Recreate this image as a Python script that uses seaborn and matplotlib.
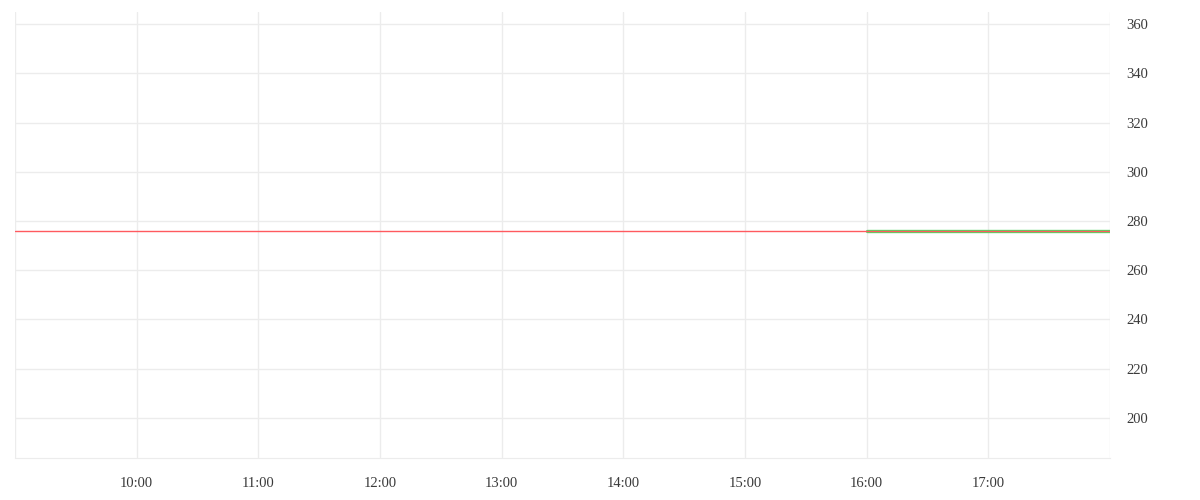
import matplotlib
matplotlib.use("Agg")
import matplotlib.pyplot as plt
import matplotlib.dates as mdates
import seaborn as sns
import pandas as pd

# Price series (flat line at the last close) and the highlighted after-hours segment
price_times = ["2024-01-02 09:00", "2024-01-02 18:00"]
price_values = [275.9, 275.9]
after_times = ["2024-01-02 16:00", "2024-01-02 18:00"]
after_values = [275.9, 275.9]

y_ticks = [200, 220, 240, 260, 280, 300, 320, 340, 360]
x_ticks = ["2024-01-02 %02d:00" % h for h in range(9, 19)]

price_df = pd.DataFrame({"time": pd.to_datetime(price_times), "price": price_values})
after_df = pd.DataFrame({"time": pd.to_datetime(after_times), "price": after_values})

sns.set_style("white")
plt.rcParams["font.family"] = ["Liberation Serif", "DejaVu Serif"]

fig = plt.figure(figsize=(12, 5), dpi=100)
ax = fig.add_axes([0.0125, 0.084, 0.9125, 0.892])

sns.lineplot(data=after_df, x="time", y="price", color="#4cd964", linewidth=2.4, ax=ax)
sns.lineplot(data=price_df, x="time", y="price", color="#ff5a5f", linewidth=1.0, ax=ax)

ax.set_xlim(pd.Timestamp(x_ticks[0]), pd.Timestamp(x_ticks[-1]))
ax.set_ylim(183.7, 364.9)
ax.set_xticks(pd.to_datetime(x_ticks))
ax.xaxis.set_major_formatter(mdates.DateFormatter("%H:%M"))
labels = [t[-5:] for t in x_ticks]
labels[0] = ""
labels[-1] = ""
ax.set_xticklabels(labels)
ax.set_yticks(y_ticks)

ax.yaxis.tick_right()
ax.grid(True, color="#ececec", linewidth=1.0)
ax.tick_params(axis="x", length=5, color="#ececec", pad=9, labelsize=10.5, labelcolor="#3a3a3a")
ax.tick_params(axis="y", length=0, pad=12, labelsize=10.5, labelcolor="#3a3a3a")
for side in ["top", "left", "right"]:
    ax.spines[side].set_visible(False)
ax.spines["bottom"].set_color("#ececec")
ax.set_xlabel("")
ax.set_ylabel("")

fig.savefig("out.png", dpi=100)
